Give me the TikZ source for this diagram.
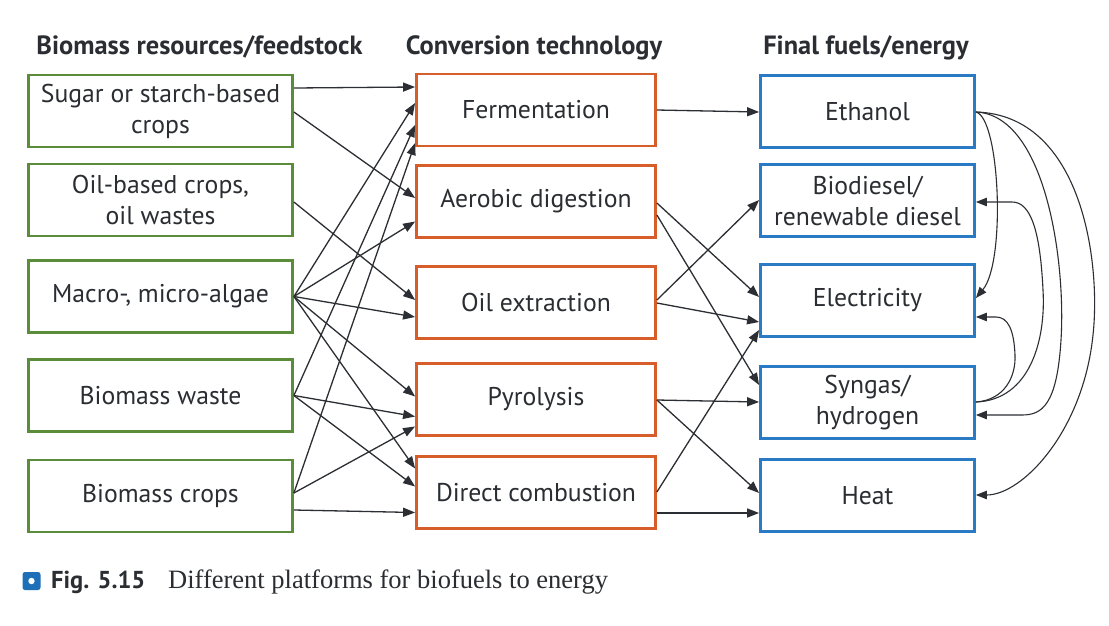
\documentclass[tikz,border=0pt]{standalone}
\usepackage{fontspec}
\setmainfont{PT Sans}
\newfontfamily\capserif{Liberation Serif}
\usetikzlibrary{arrows.meta,calc}
\definecolor{gbox}{HTML}{5B8C3A}
\definecolor{obox}{HTML}{D75E2A}
\definecolor{bbox}{HTML}{2A7BC3}
\definecolor{txt}{HTML}{2A2D32}
\definecolor{arrc}{HTML}{2B2E33}
\definecolor{iconblue}{HTML}{1F6FB8}
\begin{document}
\begin{tikzpicture}[x=1pt,y=-1pt,
  box/.style={draw, line width=2.8pt, align=center, inner sep=0pt, text=txt,
    font=\fontsize{25.7}{31}\selectfont},
  lbox/.style={box, draw=gbox, minimum width=264pt, minimum height=72pt},
  mbox/.style={box, draw=obox, minimum width=239pt, minimum height=72pt},
  rbox/.style={box, draw=bbox, minimum width=214pt, minimum height=72pt},
  head/.style={text=txt, font=\bfseries\fontsize{26.4}{26.4}\selectfont, anchor=base},
  arr/.style={draw=arrc, line width=1.3pt, -{Triangle[length=12pt,width=9pt]}},
  carr/.style={draw=arrc, line width=1.1pt, -{Triangle[length=11pt,width=8.5pt]}}
]
\useasboundingbox[fill=white] (0,0) rectangle (1109,625);

% headings
\node[head] (h1) at (199.5,54) {Biomass resources/feedstock};
\node[head] (h2) at (534,54) {Conversion technology};
\node[head] (h3) at (866,54) {Final fuels/energy};

% left column
\node[lbox] (l1) at (160.5,111) {Sugar or starch-based\\crops};
\node[lbox] (l2) at (160.5,200) {Oil-based crops,\\oil wastes};
\node[lbox] (l3) at (160.5,296.5) {Macro-, micro-algae};
\node[lbox] (l4) at (160.5,395.5) {Biomass waste};
\node[lbox] (l5) at (160.5,496) {Biomass crops};

% middle column
\node[mbox] (m1) at (536,110) {Fermentation};
\node[mbox] (m2) at (536,201.5) {Aerobic digestion};
\node[mbox] (m3) at (536,302.5) {Oil extraction};
\node[mbox] (m4) at (536,399.5) {Pyrolysis};
\node[mbox] (m5) at (536,492.5) {Direct combustion};

% right column
\node[rbox] (r1) at (867.5,111.5) {Ethanol};
\node[rbox] (r2) at (867.5,200.5) {Biodiesel/\\renewable diesel};
\node[rbox] (r3) at (867.5,300.5) {Electricity};
\node[rbox] (r4) at (867.5,402.5) {Syngas/\\hydrogen};
\node[rbox] (r5) at (867.5,495.5) {Heat};

% left -> middle
\draw[arr] ($(l1.east)+(0,-23)$) -- ($(m1.west)+(0,-23)$);
\draw[arr] ($(l1.east)+(0,1)$) -- ($(m2.west)+(0,-3.5)$);
\draw[arr] ($(l2.east)+(0,2)$) -- ($(m3.west)+(0,-2.5)$);
\draw[arr] (l3.east) -- ($(m1.west)+(0,-7)$);
\draw[arr] (l3.east) -- ($(m2.west)+(0,20)$);
\draw[arr] (l3.east) -- ($(m3.west)+(0,14.5)$);
\draw[arr] (l3.east) -- ($(m4.west)+(0,-3)$);
\draw[arr] (l3.east) -- ($(m5.west)+(0,-24)$);
\draw[arr] (l4.east) -- ($(m1.west)+(0,15)$);
\draw[arr] (l4.east) -- ($(m4.west)+(0,17)$);
\draw[arr] (l4.east) -- ($(m5.west)+(0,-6)$);
\draw[arr] ($(l5.east)+(0,-3)$) -- ($(m1.west)+(0,33)$);
\draw[arr] ($(l5.east)+(0,-3)$) -- ($(m4.west)+(0,27)$);
\draw[arr] ($(l5.east)+(0,14)$) -- ($(m5.west)+(0,20)$);

% middle -> right
\draw[arr] (m1.east) -- ($(r1.west)+(0,0.5)$);
\draw[arr] ($(m2.east)+(0,1.5)$) -- ($(r3.west)+(0,-3.5)$);
\draw[arr] ($(m2.east)+(0,13.5)$) -- ($(r4.west)+(0,-17.5)$);
\draw[arr] ($(m3.east)+(0,-2.5)$) -- ($(r2.west)+(0,-0.5)$);
\draw[arr] ($(m3.east)+(0,0.5)$) -- ($(r3.west)+(0,21.5)$);
\draw[arr] ($(m4.east)+(0,0.5)$) -- ($(r4.west)+(0,-0.5)$);
\draw[arr] ($(m4.east)+(0,0.5)$) -- ($(r5.west)+(0,-2.5)$);
\draw[arr] ($(m5.east)+(0,-0.5)$) -- ($(r3.west)+(0,29.5)$);
\draw[arr] ($(m5.east)+(0,20.5)$) -- ($(r5.west)+(0,17.5)$);

% right side feedback curves
\coordinate (e0) at ($(r1.east)+(0,0.5)$);
\coordinate (s0) at ($(r4.east)+(0,-0.5)$);
\draw[carr] (e0) .. controls (1000,118) and (1006,262) .. ($(r3.east)+(0,-2.5)$);
\draw[carr] (e0) .. controls (1045,115) and (1066,260) .. (1061,340)
  .. controls (1057,405) and (1042,415) .. (1022,415) -- ($(r4.east)+(0,12.5)$);
\draw[carr] (e0) .. controls (1082,115) and (1101,262) .. (1093,335)
  .. controls (1083,432) and (1022,495) .. ($(r5.east)+(0,-0.5)$);
\draw[carr] (s0) .. controls (1030,400) and (1046,340) .. (1043,290)
  .. controls (1040,228) and (1030,202) .. (1012,202) -- ($(r2.east)+(0,1.5)$);
\draw[carr] (s0) .. controls (1005,400) and (1016,376) .. (1015,355)
  .. controls (1014,330) and (1008,317) .. (996,317) -- ($(r3.east)+(0,16.5)$);

% caption
\node[fill=iconblue, rounded corners=2.5pt, minimum size=18pt, inner sep=0pt] (icon) at (31.5,581) {};
\fill[white] (icon.center) circle (3.2pt);
\node[anchor=base west, inner sep=0pt, text=txt, font=\bfseries\fontsize{24.5}{24.5}\selectfont] (fig) at (51,588) {Fig. 5.15};
\node[anchor=base west, inner sep=0pt, text=txt, font=\capserif\fontsize{26.5}{26.5}\selectfont] (cap) at (168,588) {Different platforms for biofuels to energy};
\end{tikzpicture}
\end{document}
